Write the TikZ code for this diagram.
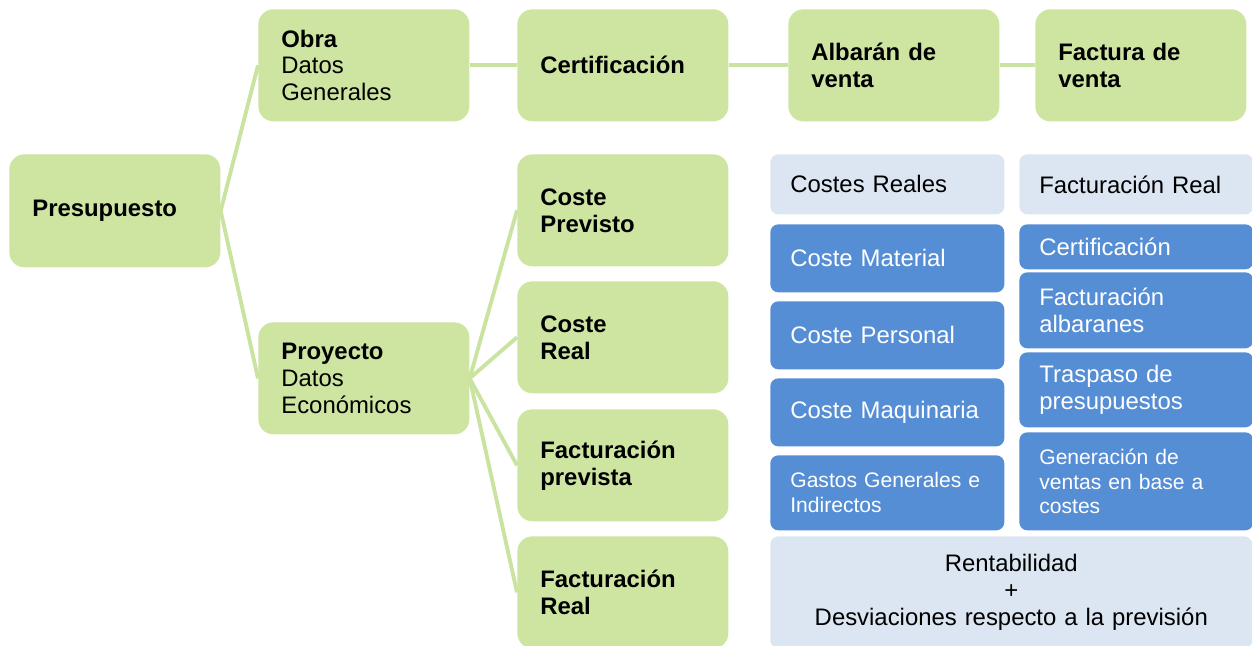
\documentclass[tikz,border=0pt]{standalone}
\usepackage{fontspec}
\setmainfont{Liberation Sans}
\usepackage{tikz}

\definecolor{boxgreen}{HTML}{CEE5A2}
\definecolor{linegreen}{HTML}{CBE3A0}
\definecolor{boxblue}{HTML}{558ED5}
\definecolor{boxpale}{HTML}{DCE6F2}

\begin{document}
\begin{tikzpicture}[
    x=0.02cm, y=-0.02cm,
    every node/.style={font=\fontsize{13.6}{15.3}\selectfont},
    small text/.style={font=\fontsize{12}{14.2}\selectfont},
    green box/.style={fill=boxgreen, rounded corners=0.3cm, anchor=north west,
        text width=3.3cm, inner xsep=0.46cm, inner ysep=0pt, align=left,
        minimum height=2.24cm},
    pale box/.style={fill=boxpale, rounded corners=0.16cm, anchor=north west,
        text width=3.88cm, inner xsep=0.4cm, inner ysep=0pt, align=left},
    blue box/.style={pale box, fill=boxblue, text=white},
    link/.style={draw=linegreen, line width=2.2pt}
    ]
   \useasboundingbox (0,0) rectangle (1252,646);
   % green tree
   \node[green box, minimum height=2.26cm] (pres) at (9,154) {\textbf{Presupuesto}};
   \node[green box] (obra) at (258,9) {\textbf{Obra}\\Datos\\Generales};
   \node[green box] (cert) at (517,9) {\textbf{Certificación}};
   \node[green box] (alb) at (788,9) {\textbf{Albarán de}\\\textbf{venta}};
   \node[green box] (fact) at (1035,9) {\textbf{Factura de}\\\textbf{venta}};
   \node[green box] (proy) at (258,322) {\textbf{Proyecto}\\Datos\\Económicos};
   \node[green box] (cprev) at (517,154) {\textbf{Coste}\\\textbf{Previsto}};
   \node[green box] (creal) at (517,281) {\textbf{Coste}\\\textbf{Real}};
   \node[green box] (fprev) at (517,409) {\textbf{Facturación}\\\textbf{prevista}};
   \node[green box] (freal) at (517,536) {\textbf{Facturación}\\\textbf{Real}};
   % costes reales
   \node[pale box, minimum height=1.2cm] (creales) at (770,154) {Costes Reales};
   \node[blue box, minimum height=1.36cm] (cmat) at (770,224) {Coste Material};
   \node[blue box, minimum height=1.36cm] (cpers) at (770,301) {Coste Personal};
   \node[blue box, minimum height=1.36cm] (cmaq) at (770,378) {Coste Maquinaria};
   \node[blue box, small text, minimum height=1.5cm] (gastos) at (770,455) {Gastos Generales e\\Indirectos};
   % facturacion real
   \node[pale box, minimum height=1.2cm] (freales) at (1019,154) {Facturación Real};
   \node[blue box, minimum height=0.9cm] (certif) at (1019,224) {Certificación};
   \node[blue box, minimum height=1.52cm] (falb) at (1019,272) {Facturación\\albaranes};
   \node[blue box, minimum height=1.5cm] (trasp) at (1019,352) {Traspaso de\\presupuestos};
   \node[blue box, small text, minimum height=1.96cm] (gener) at (1019,432) {Generación de\\ventas en base a\\costes};
   % result
   \node[pale box, text width=8.84cm, align=center, minimum height=2.24cm] (rent) at (770,536)
        {Rentabilidad\\+\\Desviaciones respecto a la previsión};
   % connectors
   \draw[link] (pres.east) -- (obra.west);
   \draw[link] (pres.east) -- (proy.west);
   \draw[link] (obra.east) -- (cert.west);
   \draw[link] (cert.east) -- (alb.west);
   \draw[link] (alb.east) -- (fact.west);
   \foreach \n in {cprev,creal,fprev,freal}
      \draw[link] (proy.east) -- (\n.west);
\end{tikzpicture}
\end{document}
